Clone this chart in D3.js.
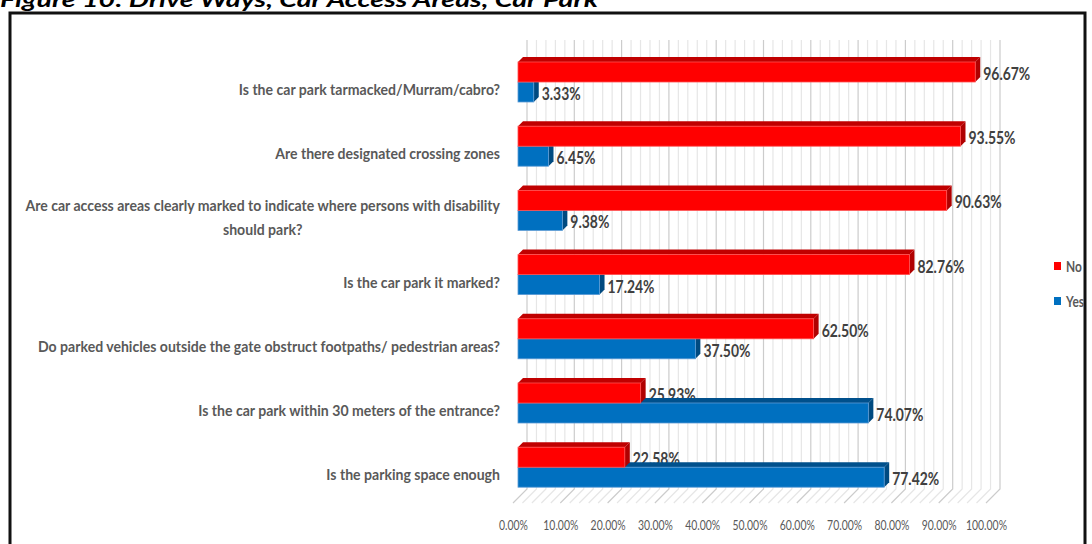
<!DOCTYPE html>
<html>
<head>
<meta charset="utf-8">
<script src="https://cdn.jsdelivr.net/npm/d3@7"></script>
<style>
  html, body { margin: 0; padding: 0; background: #fff; }
  svg { display: block; }
</style>
</head>
<body>
<svg id="chart" width="1092" height="544"></svg>
<script>
// Survey questions, top to bottom
const categories = [
  "Is the car park tarmacked/Murram/cabro?",
  "Are there designated crossing zones",
  "Are car access areas clearly marked to indicate where persons with disability|should park?",
  "Is the car park it marked?",
  "Do parked vehicles outside the gate obstruct footpaths/ pedestrian areas?",
  "Is the car park within 30 meters of the entrance?",
  "Is the parking space enough"
];
const seriesNames = ["No", "Yes"];
const noValues  = [96.67, 93.55, 90.63, 82.76, 62.50, 25.93, 22.58];
const yesValues = [3.33, 6.45, 9.38, 17.24, 37.50, 74.07, 77.42];
const tickValues = [0, 10, 20, 30, 40, 50, 60, 70, 80, 90, 100];

const FONT = "Lato, 'Open Sans', 'Noto Sans', sans-serif";
const palette = {
  No:  { front: "#ff0000", top: "#c00000", side: "#b00000", edge: "#ff5050" },
  Yes: { front: "#0070c0", top: "#00508c", side: "#004a80", edge: "#5b9bd5" }
};

const svg = d3.select("#chart");

// Narrow a text style: ratio between a wanted width and the natural width of a sample
function narrowRatio(sample, width, size, weight, style) {
  const t = svg.append("text").attr("font-family", FONT).attr("font-size", size)
    .attr("font-weight", weight || "normal").attr("font-style", style || "normal")
    .text(sample);
  const w = t.node().getComputedTextLength();
  t.remove();
  return width / w;
}
// Squeeze start-anchored text horizontally; anchor: 0 start, 0.5 middle, 1 end
function squeeze(sel, k, anchorX, anchor) {
  sel.each(function () {
    const w = this.getComputedTextLength() * k;
    const s = d3.select(this)
      .attr("text-anchor", "start")
      .attr("textLength", w).attr("lengthAdjust", "spacingAndGlyphs");
    if (anchorX !== undefined) s.attr("x", anchorX - w * anchor);
  });
}

// Caption above the framed chart
const captionText = "Figure 10: Drive Ways, Car Access Areas, Car Park";
const caption = svg.append("text")
  .attr("x", 0).attr("y", 7)
  .attr("font-family", FONT).attr("font-size", 21)
  .attr("font-weight", "bold").attr("font-style", "italic")
  .attr("fill", "#000")
  .text(captionText);
squeeze(caption, narrowRatio(captionText, 598, 21, "bold", "italic"));

// Frame
svg.append("rect")
  .attr("x", 10).attr("y", 13).attr("width", 1075).attr("height", 600)
  .attr("fill", "#fff").attr("stroke", "#111").attr("stroke-width", 3);

// Scales: back wall, floor front and bar fronts
const wallTop = 40, wallBottom = 489;
const depth = { dx: -14, dy: 14 };   // floor depth from wall to front edge
const barDepth = { dx: 5, dy: 5 };   // thickness of each 3D bar
const xWall = d3.scaleLinear().domain([0, 100]).range([527, 1000]);
const xBar = d3.scaleLinear().domain([0, 100]).range([518, 991]);
const xFront = d3.scaleLinear().domain([0, 100]).range([513, 986]);

const step = 64.2, pad = 0.377;
const yCat = d3.scaleBand().domain(d3.range(categories.length))
  .range([62 - step * pad / 2, 62 - step * pad / 2 + step * categories.length])
  .paddingInner(pad).paddingOuter(pad / 2);
const ySer = d3.scaleBand().domain(seriesNames).range([0, yCat.bandwidth()]);

// Gridlines: minor every 2%, major every 10%, wall + floor
const gridVals = d3.range(0, 100.001, 2);
const grid = svg.append("g");
gridVals.forEach(v => {
  const major = Math.abs(v % 10) < 1e-6;
  const x = xWall(v);
  grid.append("path")
    .attr("d", `M${x},${wallTop}V${wallBottom}l${depth.dx},${depth.dy}`)
    .attr("fill", "none")
    .attr("stroke", major ? "#cccccc" : "#e6e6e6")
    .attr("stroke-width", 1.2);
});

// X tick labels along the floor front
const tickSize = 14;
const xAxis = d3.axisBottom(xFront).tickValues(tickValues)
  .tickFormat(d => d.toFixed(2) + "%").tickSize(0).tickPadding(0);
const axisG = svg.append("g").attr("transform", "translate(0,520)").call(xAxis);
axisG.select(".domain").remove();
const tickK = narrowRatio("10.00%", 35, tickSize, "normal");
axisG.selectAll("text")
  .attr("font-family", FONT).attr("font-size", tickSize)
  .attr("fill", "#595959")
  .each(function () { squeeze(d3.select(this), tickK, 0, 0.5); });

// Category labels (right aligned, wrapped lines centred as a block)
const labelG = svg.append("g");
const catSize = 15;
const catK = narrowRatio("Do parked vehicles outside the gate obstruct footpaths/ pedestrian areas?", 462, catSize, "bold");
const labelRight = 500;
categories.forEach((c, i) => {
  const lines = c.split("|");
  const cy = yCat(i) + yCat.bandwidth() / 2 + 7;
  const lh = 24;
  const texts = lines.map((l, k) => labelG.append("text")
    .attr("font-family", FONT).attr("font-size", catSize)
    .attr("font-weight", "bold").attr("fill", "#595959")
    .attr("y", cy + (k - (lines.length - 1) / 2) * lh)
    .attr("dominant-baseline", "central").text(l));
  const w = d3.max(texts, t => t.node().getComputedTextLength() * catK);
  texts.forEach(t => squeeze(t, catK, labelRight - w / 2, 0.5));
});

// 3D bar drawing
function drawBar(g, v, name, y, h) {
  const c = palette[name];
  const x0 = xBar(0), x1 = xBar(v);
  const { dx, dy } = barDepth;
  g.append("polygon")
    .attr("points", [[x0, y], [x0 + dx, y - dy], [x1 + dx, y - dy], [x1, y]].join(" "))
    .attr("fill", c.top);
  g.append("polygon")
    .attr("points", [[x1, y], [x1 + dx, y - dy], [x1 + dx, y + h - dy], [x1, y + h]].join(" "))
    .attr("fill", c.side);
  g.append("rect")
    .attr("x", x0).attr("y", y).attr("width", x1 - x0).attr("height", h)
    .attr("fill", c.front).attr("stroke", c.edge).attr("stroke-width", 0.8);
}

const valueSize = 16.5;
const valueK = narrowRatio("96.67%", 47, valueSize, "bold");
function drawLabel(g, v, y, h) {
  const t = g.append("text")
    .attr("y", y + h / 2 + 2)
    .attr("dominant-baseline", "central")
    .attr("font-family", FONT).attr("font-size", valueSize).attr("font-weight", "bold")
    .attr("fill", "#404040")
    .text(v.toFixed(2) + "%");
  squeeze(t, valueK, xBar(v) + barDepth.dx + 3, 0);
}

const bars = svg.append("g");
categories.forEach((c, i) => {
  const g = bars.append("g");
  const h = ySer.bandwidth();
  const yNo = yCat(i) + ySer("No");
  const yYes = yCat(i) + ySer("Yes");
  drawLabel(g, noValues[i], yNo, h);
  drawBar(g, yesValues[i], "Yes", yYes, h);
  drawBar(g, noValues[i], "No", yNo, h);
  drawLabel(g, yesValues[i], yYes, h);
});

// Legend
const legendSize = 15;
const legendK = narrowRatio("Yes", 18, legendSize, "bold");
const legend = svg.append("g");
seriesNames.forEach((s, k) => {
  const y = 266 + k * 35;
  legend.append("rect").attr("x", 1054).attr("y", y - 4).attr("width", 7).attr("height", 8)
    .attr("fill", palette[s].front);
  const t = legend.append("text").attr("y", y)
    .attr("dominant-baseline", "central")
    .attr("font-family", FONT).attr("font-size", legendSize).attr("font-weight", "bold")
    .attr("fill", "#595959").text(s);
  squeeze(t, legendK, 1066, 0);
});
</script>
</body>
</html>
